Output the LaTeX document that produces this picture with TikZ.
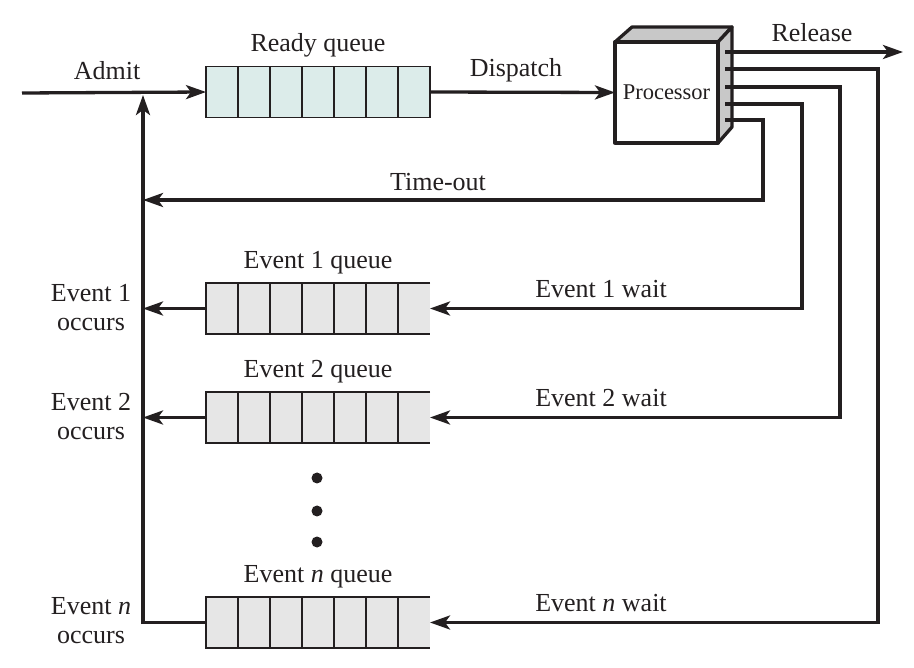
\documentclass[tikz,border=0pt]{standalone}
\usepackage{fontspec}
\setmainfont{Liberation Serif}
\usetikzlibrary{arrows.meta,calc}
\definecolor{ink}{HTML}{231F20}
\definecolor{readyfill}{HTML}{DCECEA}
\definecolor{eventfill}{HTML}{E6E6E6}
\definecolor{procgray}{HTML}{C8C8C8}
\tikzset{
  line/.style={draw=ink,line width=3.3pt},
  arr/.style={line,-{Stealth[length=20pt,width=14pt,inset=5pt]}},
  queuebox/.style={minimum width=224pt,minimum height=51pt,inner sep=0pt,outer sep=0pt},
  cell/.style={draw=ink,line width=1.6pt},
  lbl/.style={font=\fontsize{26}{30}\selectfont,text=ink,inner sep=0pt},
  occ/.style={lbl,align=center,font=\fontsize{26}{29}\selectfont},
  face/.style={draw=ink,line width=3.3pt,line join=round},
}
\begin{document}
\begin{tikzpicture}[x=1pt,y=-1pt]
\useasboundingbox (0,0) rectangle (914,668);
% Ready queue
\node[queuebox,fill=readyfill,draw=ink,line width=1.6pt] (rq) at (318,92) {};
\foreach \i in {1,...,6} \draw[cell] ($(rq.north west)+(\i*32,0)$) -- ($(rq.south west)+(\i*32,0)$);
% Event queues (open at the right end)
\foreach \n/\y in {e1/308.5,e2/417.5,en/622.5}{
  \node[queuebox,fill=eventfill] (\n) at (318,\y) {};
  \draw[cell] (\n.north east) -- (\n.north west) -- (\n.south west) -- (\n.south east);
  \foreach \i in {1,...,6} \draw[cell] ($(\n.north west)+(\i*32,0)$) -- ($(\n.south west)+(\i*32,0)$);
}
% Processor
\node[inner sep=0pt,outer sep=0pt,minimum width=103pt,minimum height=101pt,fill=white] (proc) at (666.5,92.5) {};
\fill[procgray,face] (proc.north west) -- ++(17,-15) -- ++(100,0) -- (proc.north east) -- cycle;
\fill[procgray,face] (proc.north east) -- ++(14,-15) -- ++(0,100) -- (proc.south east) -- cycle;
\draw[face] (proc.north west) rectangle (proc.south east);
\node[lbl,font=\fontsize{22.5}{26}\selectfont] at (proc.center) {Processor};
% Ports
\coordinate (p1) at (725,52);
\coordinate (p2) at (725,69);
\coordinate (p3) at (725,87);
\coordinate (p4) at (725,104);
\coordinate (p5) at (725,120);
\coordinate (rel) at (903,52);
\coordinate (in) at (22,93);
\coordinate (join) at (143,95);
\coordinate (cn) at (143,622.5);
% Connectors
\draw[arr] (in) -- (rq.west);
\draw[arr] (rq.east) -- (proc.west);
\draw[arr] (p1) -- (rel);
\draw[arr] (p5) -- (763,120) -- (763,200) -- (143,200);
\draw[arr] (p4) -- (802,104) |- (e1.east);
\draw[arr] (p3) -- (840,87) |- (e2.east);
\draw[arr] (p2) -- (878,69) |- (en.east);
\draw[arr] (e1.west) -- (e1.west -| cn);
\draw[arr] (e2.west) -- (e2.west -| cn);
\draw[line] (en.west) -- (cn);
\draw[arr] ($(cn)+(0,1.65)$) -- (join);
% Dots
\foreach \y in {478,511,542} \fill[ink] (317,\y) circle (5.5);
% Labels
\node[lbl] (l-admit) at (107,71) {Admit};
\node[lbl] (l-ready) at (318,45) {Ready queue};
\node[lbl] (l-disp) at (516,70) {Dispatch};
\node[lbl] (l-rel) at (812,33) {Release};
\node[lbl] (l-to) at (438,182) {Time-out};
\node[lbl] (l-e1q) at (318,263) {Event 1 queue};
\node[lbl] (l-e2q) at (318,372) {Event 2 queue};
\node[lbl] (l-enq) at (318,577) {Event \textit{n} queue};
\node[lbl] (l-e1w) at (601,289) {Event 1 wait};
\node[lbl] (l-e2w) at (601,398) {Event 2 wait};
\node[lbl] (l-enw) at (601,603) {Event \textit{n} wait};
\node[occ] (l-e1o) at (91,308) {Event 1\\occurs};
\node[occ] (l-e2o) at (91,417) {Event 2\\occurs};
\node[occ] (l-eno) at (91,621) {Event \textit{n}\\occurs};
\end{tikzpicture}
\end{document}
